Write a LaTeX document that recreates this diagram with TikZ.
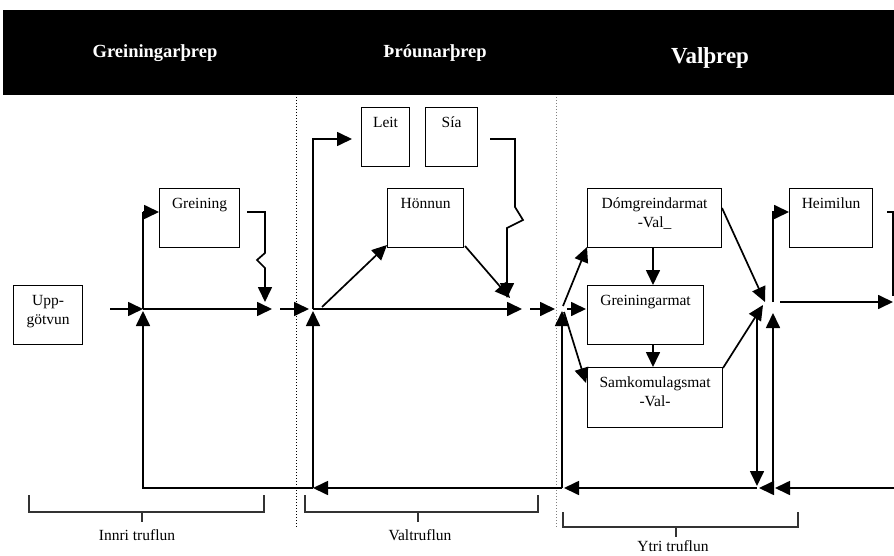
\documentclass[tikz,border=0pt]{standalone}
\usepackage{fontspec}
\setmainfont{Liberation Serif}
\usetikzlibrary{arrows.meta}
\begin{document}
\begin{tikzpicture}[x=1pt,y=-1pt,
  box/.style={draw, line width=1.1pt, inner sep=0pt, anchor=north west},
  boxtext/.style={font=\fontsize{15.5}{19}\selectfont, align=center, anchor=north, inner sep=0pt, yshift=-10pt},
  conn/.style={line width=1.7pt},
  arr/.style={line width=1.7pt, -{Triangle[length=15pt,width=14pt]}},
  brk/.style={line width=1.1pt, draw=black!80},
  sep/.style={dotted, line width=1pt},
  head/.style={text=white, inner sep=0pt, font=\bfseries\fontsize{18.5}{22}\selectfont},
  lab/.style={font=\fontsize{15.5}{19}\selectfont, inner sep=0pt, align=center}
]
\useasboundingbox (0,0) rectangle (894,556);

% header band
\fill[black] (3,10) rectangle (894,95);
\node[head] (h1) at (155,53) {Greiningarþrep};
\node[head] (h2) at (435,53) {Þróunarþrep};
\node[head, font=\bfseries\fontsize{23}{26}\selectfont] (h3) at (710,58) {Valþrep};

% separators
\draw[sep] (296,97) -- (296,527);
\draw[sep, draw=black!50] (556,97) -- (556,527);

% boxes
\node[box, minimum width=69pt, minimum height=59pt] (upp) at (13,285) {};
\node[lab] (upptxt) at ([yshift=3pt]upp.center) {Upp-\\götvun};
\node[box, minimum width=80pt, minimum height=59pt] (grein) at (159,188) {};
\node[boxtext] (greintxt) at (grein.north) {Greining};
\node[box, minimum width=48pt, minimum height=59pt] (leit) at (361,107) {};
\node[boxtext] (leittxt) at (leit.north) {Leit};
\node[box, minimum width=52pt, minimum height=59pt] (sia) at (425,107) {};
\node[boxtext] (siatxt) at (sia.north) {Sía};
\node[box, minimum width=76pt, minimum height=59pt] (honn) at (387,188) {};
\node[boxtext] (honntxt) at (honn.north) {Hönnun};
\node[box, minimum width=134pt, minimum height=59pt] (domg) at (587,188) {};
\node[boxtext] (domgtxt) at (domg.north) {Dómgreindarmat\\-Val\_};
\node[box, minimum width=116pt, minimum height=59pt] (gmat) at (587,285) {};
\node[boxtext] (gmattxt) at (gmat.north) {Greiningarmat};
\node[box, minimum width=135pt, minimum height=60pt] (samk) at (587,367) {};
\node[boxtext] (samktxt) at (samk.north) {Samkomulagsmat\\-Val-};
\node[box, minimum width=83pt, minimum height=59pt] (heim) at (789,188) {};
\node[boxtext] (heimtxt) at (heim.north) {Heimilun};

% junction / waypoint coordinates
\coordinate (jA) at (143,309);
\coordinate (jB) at (313,309);
\coordinate (jC) at (562,309);
\coordinate (bA) at (143,488);
\coordinate (bB) at (313,488);
\coordinate (bC) at (562,488);

% left section
\coordinate (uin) at (110,309);
\draw[arr] (uin) -- (jA);
\draw[arr] (bB) -- (bA) -- (143,311);
\draw[conn] (jA) -- (143,212) coordinate (gup);
\draw[arr] (143,212) -- (159,212);
\draw[arr] (jA) -- (272,309) coordinate (aEnd);
\draw[arr] (247,212) -- (265,212) -- (265,253) -- (257,260) -- (265,268) -- (265,302);
\draw[arr] (280,309) -- (309,309);

% middle section
\draw[arr] (bB) -- (313,311);
\draw[arr] (jB) -- (313,139) -- (352,139);
\draw[arr] (jB) -- (522,309);
\draw[arr] (322,307) -- (387,245);
\draw[arr] (465,246) -- (510,298);
\draw[arr] (490,139) -- (515,139) -- (515,207) -- (523,220) -- (507,228) -- (507,298);
\draw[arr] (530,309) -- (555,309);

% right section
\draw[arr] (bC) -- (562,311);
\draw[arr] (563,306) -- (587,247);
\draw[arr] (567,309) -- (586,309);
\draw[arr] (564,312) -- (586,383);
\draw[arr] (653,247) -- (653,285);
\draw[arr] (653,344) -- (653,367);
\draw[arr] (722,208) -- (765,302);
\draw[arr] (723,368) -- (763,305);
\draw[arr] (757,310) -- (757,486);
\draw[arr] (773,488) -- (773,313);
\draw[arr] (773,302) -- (773,212) -- (789,212);
\draw[arr] (780,302) -- (893,302);
\draw[conn] (887,212) -- (893,212) -- (893,296);

% bottom feedback line
\draw[arr] (894,488) -- (775,488);
\draw[arr] (773,488) -- (759,488);
\draw[arr] (757,488) -- (564,488);
\draw[arr] (bC) -- (bB);

% brackets
\draw[brk] (29,495) -- (29,512) -- (264,512) -- (264,495);
\draw[brk] (142,512) -- (142,522);
\node[lab] (l1) at (137,535) {Innri truflun};
\draw[brk] (305,495) -- (305,512) -- (538,512) -- (538,495);
\draw[brk] (418,512) -- (418,522);
\node[lab] (l2) at (420,535) {Valtruflun};
\draw[brk] (563,512) -- (563,527) -- (798,527) -- (798,512);
\draw[brk] (676,527) -- (676,537);
\node[lab] (l3) at (673,546) {Ytri truflun};
\end{tikzpicture}
\end{document}
